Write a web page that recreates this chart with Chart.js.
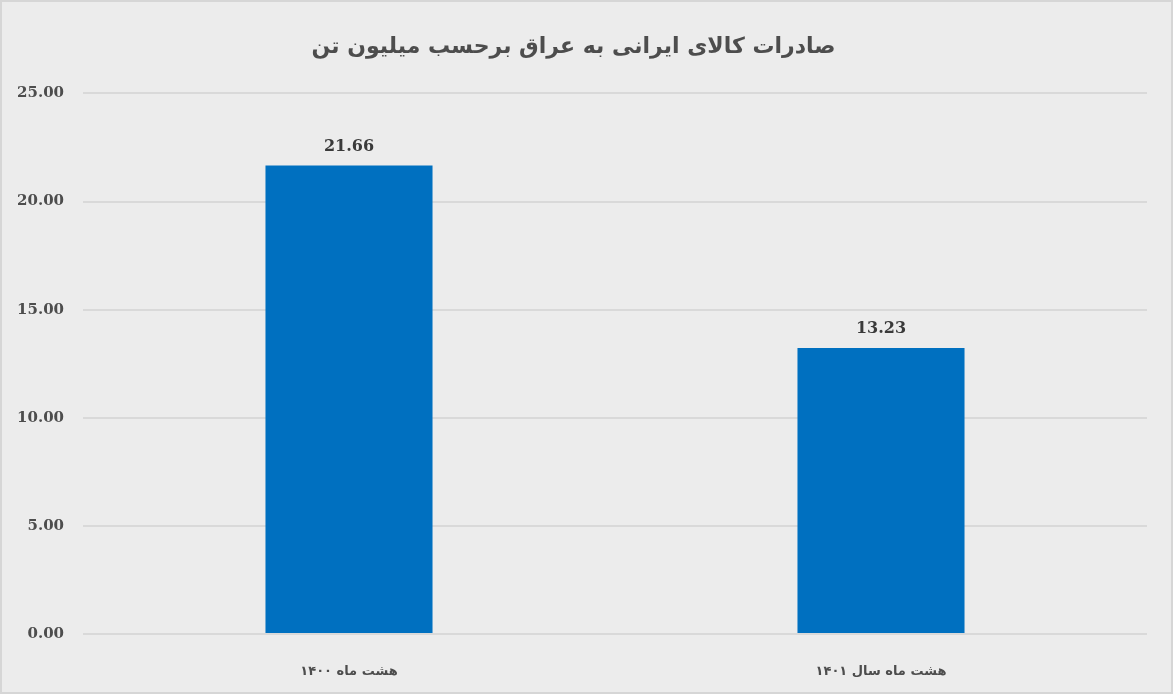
<!DOCTYPE html>
<html>
<head>
<meta charset="utf-8">
<script src="https://cdn.jsdelivr.net/npm/chart.js@4"></script>
<style>
  html, body { margin: 0; padding: 0; background: #ececec; }
  #wrap { width: 1173px; height: 694px; }
</style>
</head>
<body>
<div id="wrap"><canvas id="graph" width="1173" height="694"></canvas></div>
<script>
const TITLE = "صادرات کالای ایرانی به عراق برحسب میلیون تن";
const categories = ["هشت ماه ۱۴۰۰", "هشت ماه سال ۱۴۰۱"];
const exportValues = [21.66, 13.23];
const yTicks = [0, 5, 10, 15, 20, 25];

// -------------------------
// background + frame
// -------------------------
const bgPlugin = {
  id: "bg",
  beforeDraw(chart) {
    const c = chart.ctx;
    c.save();
    c.fillStyle = "#ececec";
    c.fillRect(0, 0, chart.width, chart.height);
    c.strokeStyle = "#d6d6d6";
    c.lineWidth = 2;
    c.strokeRect(1, 1, chart.width - 2, chart.height - 2);
    c.restore();
  }
};

// -------------------------
// value labels above bars
// -------------------------
const valueLabels = {
  id: "valueLabels",
  afterDatasetsDraw(chart) {
    const c = chart.ctx;
    const meta = chart.getDatasetMeta(0);
    c.save();
    c.font = "bold 16px 'DejaVu Serif'";
    c.fillStyle = "#3a3a3a";
    c.textAlign = "center";
    c.textBaseline = "middle";
    meta.data.forEach((bar, i) => {
      c.fillText(exportValues[i].toFixed(2), bar.x, bar.y - 19);
    });
    c.restore();
  }
};

const ctx = document.getElementById("graph").getContext("2d");
new Chart(ctx, {
  type: "bar",
  data: {
    labels: categories,
    datasets: [{
      data: exportValues,
      backgroundColor: "#0070c0",
      categoryPercentage: 1,
      barPercentage: 0.314
    }]
  },
  options: {
    responsive: false,
    animation: false,
    layout: { padding: { left: 0, right: 26, top: 0, bottom: 0 } },
    plugins: {
      legend: { display: false },
      tooltip: { enabled: false },
      title: {
        display: true,
        text: TITLE,
        color: "#4d4d4d",
        font: { family: "'DejaVu Sans'", size: 22, weight: "bold" },
        padding: { top: 34, bottom: 33 }
      }
    },
    scales: {
      x: {
        grid: { display: false },
        border: { display: false },
        ticks: {
          color: "#4d4d4d",
          padding: 22,
          font: { family: "'DejaVu Sans'", size: 13, weight: "bold" }
        },
        afterFit(s) { s.height = 60; }
      },
      y: {
        min: 0,
        max: 25,
        afterBuildTicks(s) { s.ticks = yTicks.map(v => ({ value: v })); },
        grid: { color: "#d9d9d9", lineWidth: 2, drawTicks: false },
        border: { display: false },
        ticks: {
          color: "#4d4d4d",
          padding: 19,
          font: { family: "'DejaVu Serif'", size: 15, weight: "bold" },
          callback: v => Number(v).toFixed(2)
        },
        afterFit(s) { s.width = 83; }
      }
    }
  },
  plugins: [bgPlugin, valueLabels]
});
</script>
</body>
</html>
